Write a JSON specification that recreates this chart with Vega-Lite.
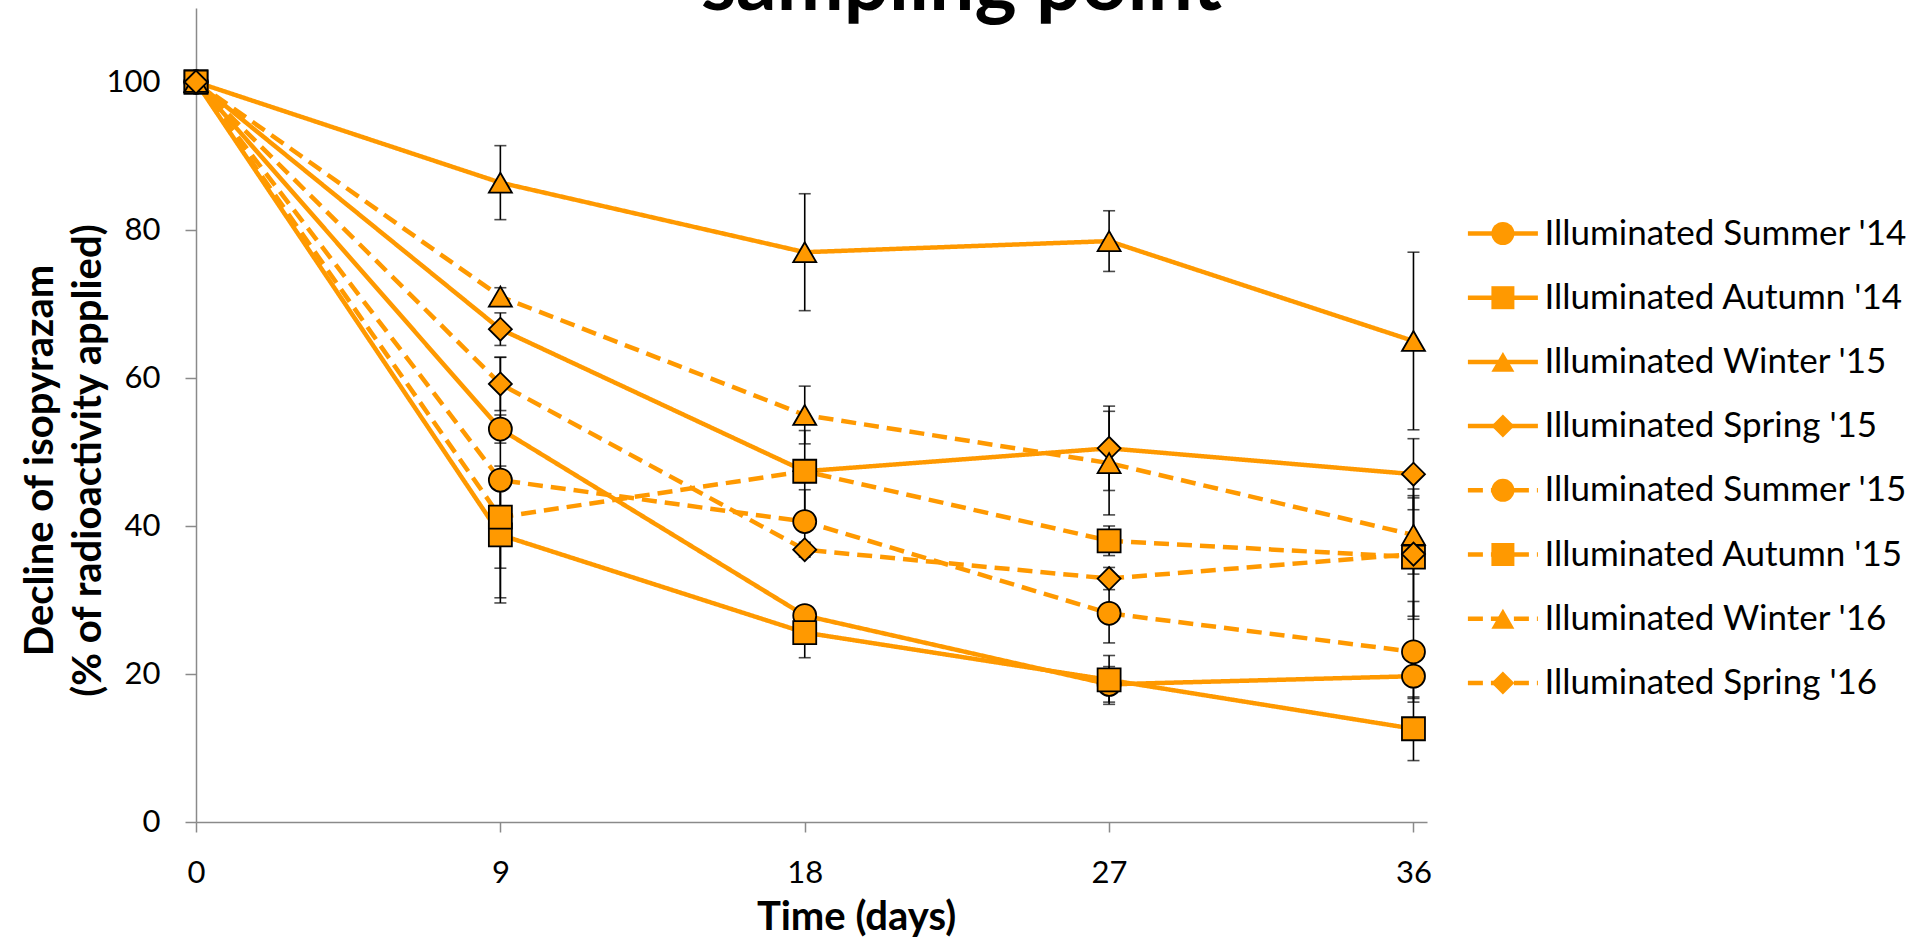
{
  "$schema": "https://vega.github.io/schema/vega-lite/v6.json",
  "width": 1231,
  "height": 814,
  "autosize": {"type": "none"},
  "padding": {"left": 196, "top": 8, "right": 488, "bottom": 118},
  "background": "white",
  "config": {"view": {"stroke": null}, "font": "Lato"},
  "title": {
    "text": "sampling point",
    "font": "Lato",
    "fontSize": 80,
    "fontWeight": "bold",
    "color": "black",
    "anchor": "middle",
    "frame": "group",
    "dx": 150,
    "dy": 82,
    "baseline": "alphabetic",
    "offset": 0
  },
  "data": {
    "values": [
      {"series": "Illuminated Summer '14", "day": 0, "value": 100, "sd": 0},
      {"series": "Illuminated Summer '14", "day": 9, "value": 53.1, "sd": 1.9},
      {"series": "Illuminated Summer '14", "day": 18, "value": 27.9, "sd": 1.2},
      {"series": "Illuminated Summer '14", "day": 27, "value": 18.6, "sd": 2.4},
      {"series": "Illuminated Summer '14", "day": 36, "value": 19.7, "sd": 3.0},
      {"series": "Illuminated Autumn '14", "day": 0, "value": 100, "sd": 0},
      {"series": "Illuminated Autumn '14", "day": 9, "value": 38.8, "sd": 8.5},
      {"series": "Illuminated Autumn '14", "day": 18, "value": 25.6, "sd": 3.4},
      {"series": "Illuminated Autumn '14", "day": 27, "value": 19.2, "sd": 3.3},
      {"series": "Illuminated Autumn '14", "day": 36, "value": 12.6, "sd": 4.3},
      {"series": "Illuminated Winter '15", "day": 0, "value": 100, "sd": 0},
      {"series": "Illuminated Winter '15", "day": 9, "value": 86.4, "sd": 5.0},
      {"series": "Illuminated Winter '15", "day": 18, "value": 77.0, "sd": 7.9},
      {"series": "Illuminated Winter '15", "day": 27, "value": 78.5, "sd": 4.1},
      {"series": "Illuminated Winter '15", "day": 36, "value": 65.0, "sd": 12.0},
      {"series": "Illuminated Spring '15", "day": 0, "value": 100, "sd": 0},
      {"series": "Illuminated Spring '15", "day": 9, "value": 66.6, "sd": 2.2},
      {"series": "Illuminated Spring '15", "day": 18, "value": 47.4, "sd": 1.5},
      {"series": "Illuminated Spring '15", "day": 27, "value": 50.5, "sd": 5.7},
      {"series": "Illuminated Spring '15", "day": 36, "value": 47.0, "sd": 4.8},
      {"series": "Illuminated Summer '15", "day": 0, "value": 100, "sd": 0},
      {"series": "Illuminated Summer '15", "day": 9, "value": 46.2, "sd": 16.6},
      {"series": "Illuminated Summer '15", "day": 18, "value": 40.6, "sd": 4.3},
      {"series": "Illuminated Summer '15", "day": 27, "value": 28.2, "sd": 4.0},
      {"series": "Illuminated Summer '15", "day": 36, "value": 23.0, "sd": 6.8},
      {"series": "Illuminated Autumn '15", "day": 0, "value": 100, "sd": 0},
      {"series": "Illuminated Autumn '15", "day": 9, "value": 41.2, "sd": 6.9},
      {"series": "Illuminated Autumn '15", "day": 18, "value": 47.4, "sd": 5.5},
      {"series": "Illuminated Autumn '15", "day": 27, "value": 38.0, "sd": 2.0},
      {"series": "Illuminated Autumn '15", "day": 36, "value": 35.8, "sd": 8.0},
      {"series": "Illuminated Winter '16", "day": 0, "value": 100, "sd": 0},
      {"series": "Illuminated Winter '16", "day": 9, "value": 71.0, "sd": 1.2},
      {"series": "Illuminated Winter '16", "day": 18, "value": 55.0, "sd": 3.9},
      {"series": "Illuminated Winter '16", "day": 27, "value": 48.5, "sd": 7.0},
      {"series": "Illuminated Winter '16", "day": 36, "value": 38.8, "sd": 5.3},
      {"series": "Illuminated Spring '16", "day": 0, "value": 100, "sd": 0},
      {"series": "Illuminated Spring '16", "day": 9, "value": 59.2, "sd": 3.6},
      {"series": "Illuminated Spring '16", "day": 18, "value": 36.8, "sd": 1.0},
      {"series": "Illuminated Spring '16", "day": 27, "value": 32.9, "sd": 1.5},
      {"series": "Illuminated Spring '16", "day": 36, "value": 36.2, "sd": 8.8}
    ]
  },
  "encoding": {
    "x": {
      "field": "day",
      "type": "quantitative",
      "scale": {"domain": [0, 36.4], "nice": false, "zero": false},
      "axis": {
        "values": [0, 9, 18, 27, 36],
        "title": "Time (days)",
        "grid": false,
        "labelFlush": false,
        "labelOverlap": false,
        "domainColor": "#8A8A8A",
        "domainWidth": 1.5,
        "tickColor": "#8A8A8A",
        "tickWidth": 1.5,
        "tickSize": 10,
        "labelFont": "Lato",
        "labelFontSize": 31,
        "labelColor": "black",
        "labelPadding": 26,
        "titleFont": "Lato",
        "titleFontSize": 40,
        "titleFontWeight": "bold",
        "titleColor": "black",
        "titleX": 660,
        "titleY": 107,
        "titleAlign": "center",
        "titleBaseline": "alphabetic"
      }
    },
    "y": {
      "field": "value",
      "type": "quantitative",
      "scale": {"domain": [0, 110], "nice": false},
      "axis": {
        "values": [0, 20, 40, 60, 80, 100],
        "title": ["Decline of isopyrazam", "(% of radioactivity applied)"],
        "grid": false,
        "labelOverlap": false,
        "domainColor": "#8A8A8A",
        "domainWidth": 1.5,
        "tickColor": "#8A8A8A",
        "tickWidth": 1.5,
        "tickSize": 11,
        "labelFont": "Lato",
        "labelFontSize": 31,
        "labelColor": "black",
        "labelPadding": 25,
        "titleFont": "Lato",
        "titleFontSize": 40,
        "titleFontWeight": "bold",
        "titleColor": "black",
        "titleLineHeight": 48,
        "titleAngle": 270,
        "titleAlign": "center",
        "titleBaseline": "top",
        "titleX": -176,
        "titleY": 452
      }
    }
  },
  "layer": [
    {
      "mark": {"type": "line", "color": "#FF9900", "strokeWidth": 4.5},
      "encoding": {
        "strokeDash": {
          "field": "series",
          "type": "nominal",
          "sort": ["Illuminated Summer '14", "Illuminated Autumn '14", "Illuminated Winter '15", "Illuminated Spring '15", "Illuminated Summer '15", "Illuminated Autumn '15", "Illuminated Winter '16", "Illuminated Spring '16"],
          "scale": {"range": [[1, 0], [1, 0], [1, 0], [1, 0], [15, 8], [15, 8], [15, 8], [15, 8]]},
          "legend": {
            "orient": "none",
            "legendX": 1289.4,
            "legendY": 208,
            "title": null,
            "padding": 0,
            "symbolType": "M-2.5,0H2.5",
            "symbolSize": 784,
            "symbolStrokeWidth": 4.5,
            "symbolStrokeColor": "#FF9900",
            "labelFont": "Lato",
            "labelFontSize": 35,
            "labelOpacity": 0,
            "labelOffset": 24,
            "labelLimit": 0,
            "rowPadding": 28.2,
            "zindex": 0
          }
        }
      }
    },
    {
      "transform": [{"filter": "datum.day > 0"}],
      "mark": {
        "type": "errorbar",
        "ticks": {"size": 12, "thickness": 1.6, "color": "black"},
        "rule": {"color": "black", "strokeWidth": 1.6}
      },
      "encoding": {
        "yError": {"field": "sd"}
      }
    },
    {
      "mark": {"type": "point", "filled": true, "fill": "#FF9900", "stroke": "black", "strokeWidth": 1.8, "size": 529, "opacity": 1},
      "encoding": {
        "shape": {
          "field": "series",
          "type": "nominal",
          "scale": {
            "domain": ["Illuminated Summer '14", "Illuminated Autumn '14", "Illuminated Winter '15", "Illuminated Spring '15", "Illuminated Summer '15", "Illuminated Autumn '15", "Illuminated Winter '16", "Illuminated Spring '16"],
            "range": ["circle", "square", "triangle-up", "diamond", "circle", "square", "triangle-up", "diamond"]
          },
          "legend": {
            "orient": "none",
            "legendX": 1289.4,
            "legendY": 208,
            "title": null,
            "padding": 0,
            "symbolSize": 529,
            "symbolFillColor": "#FF9900",
            "symbolStrokeColor": "black",
            "symbolStrokeWidth": 1.8,
            "symbolOpacity": 1,
            "labelFont": "Lato",
            "labelFontSize": 35,
            "labelColor": "black",
            "labelOffset": 24,
            "labelLimit": 0,
            "rowPadding": 28.2,
            "zindex": 1
          }
        }
      }
    }
  ]
}
